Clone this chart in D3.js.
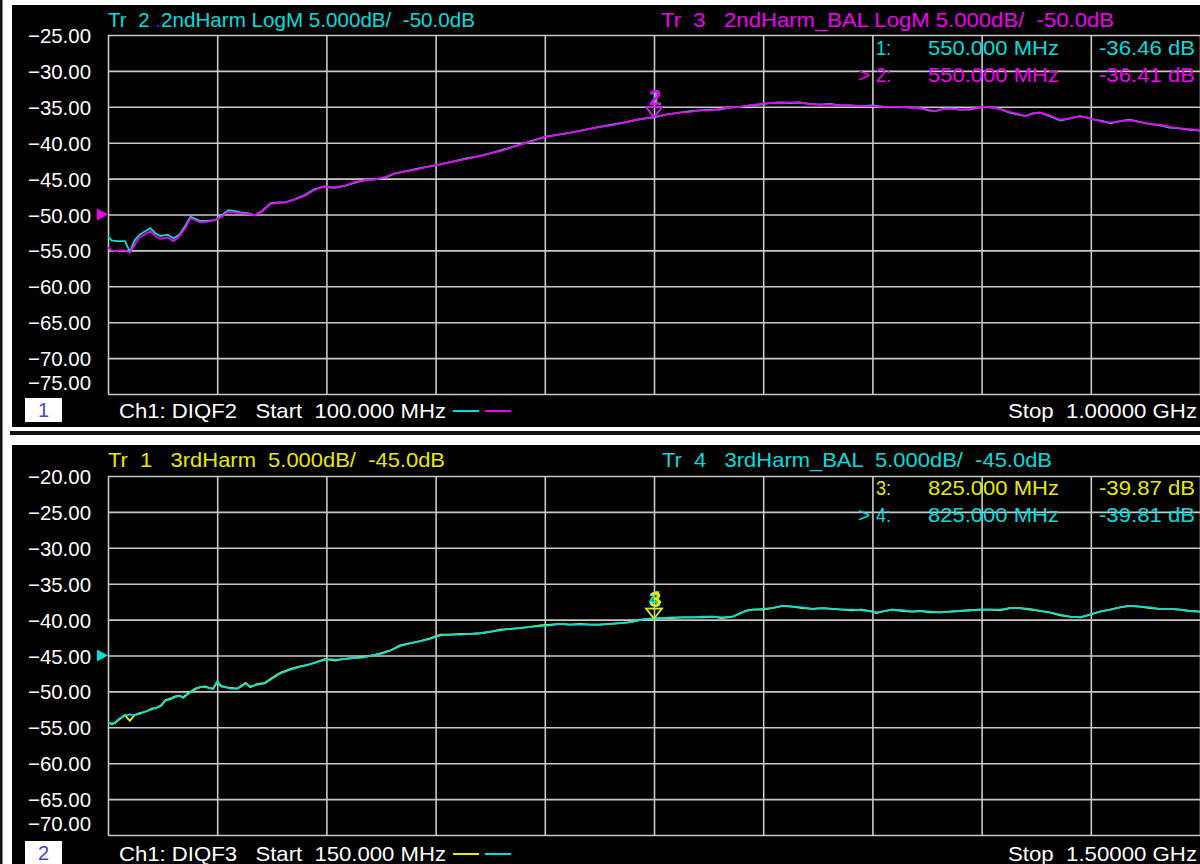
<!DOCTYPE html>
<html>
<head>
<meta charset="utf-8">
<script src="https://cdn.jsdelivr.net/npm/d3@7"></script>
<style>
  body { margin: 0; background: #fff; }
  svg text { font-family: "Liberation Sans", Arial, sans-serif; font-size: 21px; white-space: pre; }
</style>
</head>
<body>
<div id="chart"></div>
<script>
// ---- data: top window (Ch1 DIQF2, 2nd harmonic) ----
var topFreq = [
  100, 103, 107, 110, 114, 118, 122, 126, 130, 135,
  139, 143, 149, 154, 159, 164, 168, 172, 176, 182,
  188, 194, 199, 204, 209, 215, 221, 227, 234, 240,
  246, 254, 262, 270, 278, 286, 295, 303, 312, 320,
  328, 336, 345, 355, 365, 375, 385, 395, 405, 415,
  425, 435, 448, 460, 470, 481, 493, 505, 515, 525,
  539, 550, 560, 571, 580, 588, 597, 604, 612, 621,
  629, 637, 645, 654, 662, 670, 678, 687, 695, 704,
  712, 720, 730, 740, 753, 761, 769, 776, 782, 788,
  794, 802, 810, 816, 823, 829, 835, 843, 850, 856,
  862, 868, 876, 885, 893, 901, 907, 913, 920, 926,
  934, 942, 950, 959, 967, 975, 983, 992, 1000];

var tr2 = [
  -53.1, -53.6, -53.7, -53.7, -53.7, -55.2, -53.6, -52.8, -52.4, -51.9,
  -52.6, -53.0, -52.8, -53.3, -52.8, -51.5, -50.3, -50.6, -50.9, -50.9,
  -50.8, -50.1, -49.4, -49.5, -49.7, -49.8, -50.1, -49.5, -48.4, -48.3,
  -48.3, -47.9, -47.3, -46.5, -46.1, -46.3, -46.0, -45.6, -45.2, -45.1,
  -44.9, -44.3, -44.0, -43.6, -43.3, -43.0, -42.6, -42.2, -41.9, -41.5,
  -41.0, -40.5, -39.8, -39.2, -38.9, -38.6, -38.2, -37.8, -37.5, -37.2,
  -36.7, -36.46, -36.1, -35.8, -35.6, -35.5, -35.4, -35.4, -35.1, -35.0,
  -34.8, -34.7, -34.5, -34.4, -34.5, -34.4, -34.6, -34.7, -34.6, -34.8,
  -34.8, -34.9, -34.8, -35.0, -35.0, -35.1, -35.2, -35.5, -35.6, -35.3,
  -35.2, -35.4, -35.4, -35.2, -35.0, -35.1, -35.3, -35.8, -36.1, -36.3,
  -35.9, -35.8, -36.3, -36.9, -36.6, -36.3, -36.5, -36.8, -37.0, -37.3,
  -37.0, -36.8, -37.1, -37.4, -37.6, -37.9, -38.0, -38.2, -38.3];

var tr3 = [
  -54.6, -55.0, -55.1, -55.0, -55.0, -55.3, -54.2, -53.2, -52.8, -52.3,
  -53.0, -53.4, -53.2, -53.7, -53.0, -51.8, -50.5, -50.8, -51.1, -51.0,
  -50.8, -50.3, -49.6, -49.7, -49.8, -49.9, -50.1, -49.6, -48.5, -48.4,
  -48.3, -47.9, -47.4, -46.6, -46.1, -46.2, -46.0, -45.5, -45.2, -45.1,
  -44.8, -44.3, -44.0, -43.7, -43.3, -43.0, -42.6, -42.3, -41.9, -41.5,
  -41.1, -40.5, -39.9, -39.2, -38.9, -38.6, -38.2, -37.8, -37.6, -37.2,
  -36.7, -36.41, -36.1, -35.8, -35.7, -35.5, -35.5, -35.3, -35.1, -35.0,
  -34.8, -34.6, -34.5, -34.4, -34.4, -34.4, -34.6, -34.7, -34.7, -34.8,
  -34.8, -34.9, -34.9, -35.0, -35.0, -35.1, -35.2, -35.4, -35.6, -35.3,
  -35.3, -35.4, -35.3, -35.2, -35.0, -35.1, -35.3, -35.7, -36.0, -36.3,
  -36.0, -35.8, -36.2, -36.8, -36.6, -36.3, -36.5, -36.8, -37.1, -37.2,
  -37.0, -36.9, -37.1, -37.4, -37.5, -37.8, -38.0, -38.1, -38.3];

var topXTicks = [100, 190, 280, 370, 460, 550, 640, 730, 820, 910, 1000];
var topYTicks = [-25, -30, -35, -40, -45, -50, -55, -60, -65, -70, -75];

// ---- data: bottom window (Ch1 DIQF3, 3rd harmonic) ----
var botFreq = [
  150, 155, 159, 165, 171, 177, 183, 190, 197, 204,
  210, 216, 221, 227, 233, 238, 243, 250, 258, 264,
  270, 275, 280, 285, 290, 295, 302, 310, 315, 320,
  326, 334, 344, 353, 363, 375, 387, 397, 406, 418,
  425, 431, 440, 449, 465, 480, 490, 499, 511, 523,
  536, 548, 561, 573, 585, 598, 610, 622, 635, 647,
  659, 672, 684, 697, 709, 721, 734, 746, 758, 771,
  783, 793, 802, 810, 816, 825, 835, 847, 860, 872,
  885, 897, 909, 922, 928, 934, 940, 947, 959, 971,
  984, 996, 1008, 1021, 1033, 1045, 1058, 1070, 1082, 1095,
  1100, 1107, 1119, 1132, 1144, 1154, 1166, 1179, 1191, 1203,
  1216, 1228, 1240, 1253, 1265, 1277, 1290, 1302, 1314, 1327,
  1339, 1352, 1364, 1376, 1389, 1401, 1413, 1426, 1438, 1450,
  1463, 1475, 1487, 1500];

var tr1 = [
  -54.4, -54.5, -54.4, -53.8, -53.3, -54.1, -53.3, -53.0, -52.8, -52.4,
  -52.3, -51.9, -51.2, -51.0, -50.7, -50.6, -50.8, -50.2, -49.6, -49.4,
  -49.3, -49.5, -49.6, -48.7, -49.3, -49.4, -49.5, -49.6, -49.2, -48.8,
  -49.4, -49.0, -48.8, -48.1, -47.4, -46.9, -46.5, -46.3, -46.0, -45.5,
  -45.6, -45.7, -45.5, -45.4, -45.2, -44.9, -44.6, -44.3, -43.6, -43.3,
  -43.0, -42.6, -42.1, -42.1, -42.0, -42.0, -41.9, -41.7, -41.4, -41.3,
  -41.2, -41.0, -40.8, -40.7, -40.6, -40.7, -40.6, -40.7, -40.7, -40.6,
  -40.5, -40.4, -40.2, -40.0, -39.9, -39.87, -39.8, -39.8, -39.7, -39.7,
  -39.7, -39.6, -39.8, -39.6, -39.3, -39.0, -38.7, -38.6, -38.6, -38.4,
  -38.1, -38.2, -38.4, -38.5, -38.4, -38.5, -38.6, -38.7, -38.6, -38.9,
  -39.1, -38.9, -38.6, -38.8, -38.9, -38.8, -39.0, -39.0, -38.9, -38.8,
  -38.7, -38.6, -38.6, -38.7, -38.4, -38.4, -38.6, -38.8, -39.0, -39.4,
  -39.6, -39.7, -39.3, -38.9, -38.6, -38.3, -38.1, -38.2, -38.4, -38.5,
  -38.5, -38.6, -38.8, -38.9];

var tr4 = [
  -54.3, -54.6, -54.3, -53.7, -53.4, -53.2, -53.3, -53.1, -52.8, -52.5,
  -52.3, -52.0, -51.3, -51.1, -50.8, -50.6, -50.9, -50.3, -49.7, -49.4,
  -49.4, -49.5, -49.7, -48.6, -49.2, -49.4, -49.6, -49.6, -49.3, -48.9,
  -49.3, -49.1, -48.9, -48.2, -47.5, -47.0, -46.6, -46.3, -46.0, -45.6,
  -45.5, -45.6, -45.5, -45.4, -45.3, -44.9, -44.7, -44.3, -43.7, -43.3,
  -43.0, -42.7, -42.2, -42.1, -42.1, -42.0, -41.9, -41.7, -41.5, -41.3,
  -41.2, -41.0, -40.9, -40.8, -40.6, -40.7, -40.7, -40.7, -40.7, -40.6,
  -40.5, -40.4, -40.2, -40.0, -39.9, -39.81, -39.8, -39.7, -39.7, -39.7,
  -39.6, -39.6, -39.7, -39.6, -39.3, -39.0, -38.8, -38.6, -38.5, -38.4,
  -38.1, -38.2, -38.3, -38.5, -38.4, -38.5, -38.6, -38.6, -38.7, -38.9,
  -39.0, -38.9, -38.6, -38.7, -38.9, -38.8, -38.9, -39.0, -38.9, -38.8,
  -38.7, -38.6, -38.6, -38.6, -38.4, -38.4, -38.5, -38.8, -39.0, -39.3,
  -39.6, -39.7, -39.3, -38.9, -38.6, -38.3, -38.1, -38.2, -38.3, -38.5,
  -38.5, -38.6, -38.8, -38.9];

var botXTicks = [150, 285, 420, 555, 690, 825, 960, 1095, 1230, 1365, 1500];
var botYTicks = [-20, -25, -30, -35, -40, -45, -50, -55, -60, -65, -70];

// colours
var CYAN = "#00dede", MAGENTA = "#f000f0", YELLOW = "#e8e800";

var svgWidth = 1200, svgHeight = 864;
var svg = d3.select("#chart").append("svg")
  .attr("width", svgWidth)
  .attr("height", svgHeight);

svg.append("rect").attr("x", 0).attr("y", 0).attr("width", svgWidth).attr("height", svgHeight).attr("fill", "#fff");
svg.append("rect").attr("x", 0).attr("y", 0).attr("width", 2.5).attr("height", svgHeight).attr("fill", "#111");
// separator line between the two windows
svg.append("rect").attr("x", 10).attr("y", 431).attr("width", 1190).attr("height", 4).attr("fill", "#111");

function txt(g, x, y, s, fill, len, anchor) {
  var t = g.append("text")
    .attr("x", x).attr("y", y)
    .attr("fill", fill)
    .attr("text-anchor", anchor || "start")
    .text(s);
  if (len) t.attr("textLength", len).attr("lengthAdjust", "spacingAndGlyphs");
  return t;
}

function drawPanel(p) {
  var g = svg.append("g");
  var left = 108, right = 1200;

  // black window
  g.append("rect")
    .attr("x", 12).attr("y", p.top)
    .attr("width", svgWidth - 12).attr("height", p.bottom - p.top)
    .attr("fill", "#000");

  var x = d3.scaleLinear().domain([p.xTicks[0], p.xTicks[p.xTicks.length - 1]]).range([left, right]);
  var y = d3.scaleLinear().domain([p.yTicks[0], p.yTicks[p.yTicks.length - 1]]).range([p.gTop, p.gBot]);

  // grid
  var gridX = g.append("g")
    .attr("transform", `translate(0, ${p.gBot})`)
    .call(d3.axisBottom(x).tickValues(p.xTicks).tickSize(-(p.gBot - p.gTop)).tickFormat(""));
  var gridY = g.append("g")
    .attr("transform", `translate(${left}, 0)`)
    .call(d3.axisLeft(y).tickValues(p.yTicks).tickSize(-(right - left)).tickFormat(""));
  [gridX, gridY].forEach(function (ax) {
    ax.select(".domain").remove();
    ax.selectAll("line").attr("stroke", "#c8c8c8").attr("stroke-width", 1.6);
  });

  // tick labels
  p.yTicks.forEach(function (v, i) {
    var yy = y(v) + 8;
    if (i === p.yTicks.length - 1) yy -= 12;
    txt(g, 91, yy, d3.format(".2f")(v), "#fff", 63, "end");
  });

  // reference level arrow
  var ry = y(p.refLevel);
  g.append("path")
    .attr("d", `M${left - 11},${ry - 6}L${left},${ry}L${left - 11},${ry + 6}Z`)
    .attr("fill", p.refColor);

  // traces
  var clipId = "clip" + p.id;
  g.append("clipPath").attr("id", clipId).append("rect")
    .attr("x", left).attr("y", p.gTop - 2).attr("width", right - left).attr("height", p.gBot - p.gTop + 4);
  var line = d3.line()
    .x(function (d) { return x(d[0]); })
    .y(function (d) { return y(d[1]); });
  p.traces.forEach(function (tr) {
    g.append("path")
      .datum(p.freq.map(function (f, i) { return [f, tr.values[i]]; }))
      .attr("clip-path", `url(#${clipId})`)
      .attr("fill", "none")
      .attr("stroke", tr.color)
      .attr("stroke-width", 1.8)
      .attr("d", line);
  });

  // markers
  p.markers.forEach(function (m) {
    var mx = x(m.freq), my = y(m.value);
    g.append("path")
      .attr("d", `M${mx},${my}L${mx - 8},${my - 10}L${mx + 8},${my - 10}Z`)
      .attr("fill", "none").attr("stroke", m.color).attr("stroke-width", 1.5);
    txt(g, mx + 1, my - 12, m.label, m.color, null, "middle")
      .style("font-size", "22px").style("font-weight", "bold");
  });

  // header
  p.headers.forEach(function (h) {
    var t = txt(g, h.x, p.top + 22, "", h.color, h.len);
    h.parts.forEach(function (pt) {
      t.append("tspan").attr("fill", pt[1] || h.color).text(pt[0]);
    });
  });

  // marker readouts
  p.readouts.forEach(function (r, i) {
    var yy = p.top + 50 + i * 27;
    if (r.active) txt(g, 858, yy, ">", r.color);
    txt(g, 876, yy, r.label + ":", r.color, 15);
    txt(g, 928, yy, r.freqText, r.color, 131);
    txt(g, 1099, yy, r.valText, r.color, 96);
  });

  // channel footer
  var fy = p.bottom - 9;
  g.append("rect").attr("x", 25).attr("y", p.bottom - 29).attr("width", 37).attr("height", 24).attr("fill", "#fff");
  txt(g, 43.5, fy - 1, p.id, "#4646d8", null, "middle").style("font-size", "20px");
  txt(g, 119, fy, p.startText, "#fff", 327);
  p.legend.forEach(function (c, i) {
    g.append("line")
      .attr("x1", 453 + i * 32).attr("x2", 479 + i * 32)
      .attr("y1", fy - 7).attr("y2", fy - 7)
      .attr("stroke", c).attr("stroke-width", 2);
  });
  txt(g, 1197, fy, p.stopText, "#fff", 189, "end");
}

drawPanel({
  id: "1", top: 5, bottom: 427, gTop: 35, gBot: 394,
  freq: topFreq, xTicks: topXTicks, yTicks: topYTicks,
  refLevel: -50, refColor: MAGENTA,
  traces: [{ values: tr2, color: CYAN }, { values: tr3, color: MAGENTA }],
  markers: [
    { freq: 550, value: tr2[topFreq.indexOf(550)], color: CYAN, label: "1" },
    { freq: 550, value: tr3[topFreq.indexOf(550)], color: MAGENTA, label: "2" }
  ],
  headers: [
    { x: 108, len: 367, color: CYAN, parts: [["Tr  2 "], [".", "#2a2aff"], ["2ndHarm LogM 5.000dB/  -50.0dB"]] },
    { x: 661, len: 453, color: MAGENTA, parts: [["Tr  3   2ndHarm_BAL LogM 5.000dB/  -50.0dB"]] }
  ],
  readouts: [
    { label: "1", freqText: "550.000 MHz", valText: "-36.46 dB", color: CYAN },
    { label: "2", freqText: "550.000 MHz", valText: "-36.41 dB", color: MAGENTA, active: true }
  ],
  startText: "Ch1: DIQF2   Start  100.000 MHz",
  stopText: "Stop  1.00000 GHz",
  legend: [CYAN, MAGENTA]
});

drawPanel({
  id: "2", top: 445, bottom: 870, gTop: 476, gBot: 835,
  freq: botFreq, xTicks: botXTicks, yTicks: botYTicks,
  refLevel: -45, refColor: CYAN,
  traces: [{ values: tr1, color: YELLOW }, { values: tr4, color: CYAN }],
  markers: [
    { freq: 825, value: tr4[botFreq.indexOf(825)], color: CYAN, label: "4" },
    { freq: 825, value: tr1[botFreq.indexOf(825)], color: YELLOW, label: "3" }
  ],
  headers: [
    { x: 108, len: 337, color: YELLOW, parts: [["Tr  1   3rdHarm  5.000dB/  -45.0dB"]] },
    { x: 662, len: 390, color: CYAN, parts: [["Tr  4   3rdHarm_BAL  5.000dB/  -45.0dB"]] }
  ],
  readouts: [
    { label: "3", freqText: "825.000 MHz", valText: "-39.87 dB", color: YELLOW },
    { label: "4", freqText: "825.000 MHz", valText: "-39.81 dB", color: CYAN, active: true }
  ],
  startText: "Ch1: DIQF3   Start  150.000 MHz",
  stopText: "Stop  1.50000 GHz",
  legend: [YELLOW, CYAN]
});
</script>
</body>
</html>
